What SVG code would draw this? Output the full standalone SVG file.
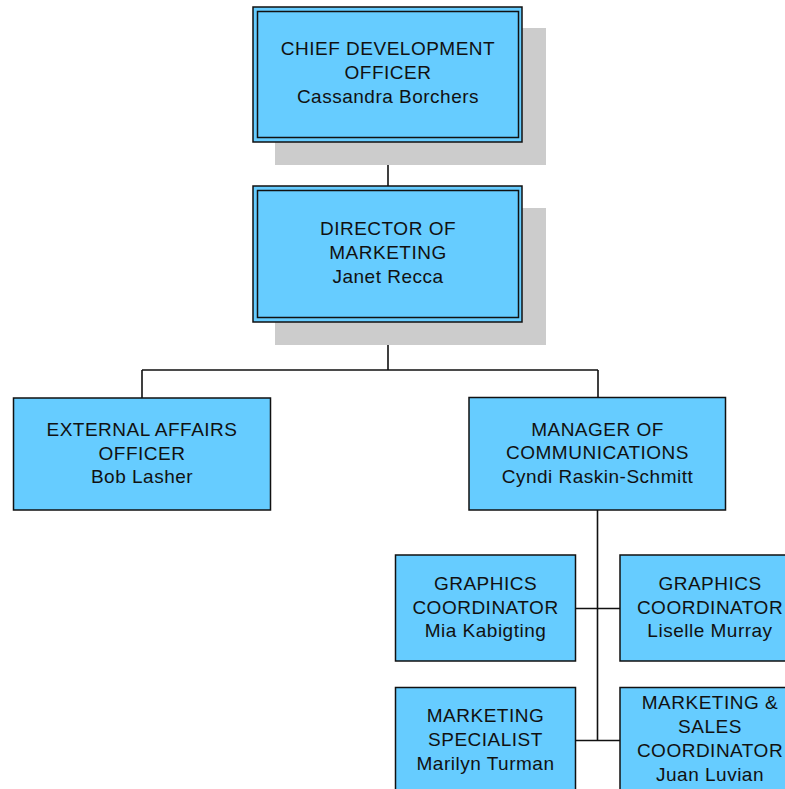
<svg xmlns="http://www.w3.org/2000/svg" width="785" height="789" viewBox="0 0 785 789">
<style>
.shadow{fill:#cccccc;stroke:none}
.box{fill:#66ccff;stroke:#111;stroke-width:1.5}
.inner{fill:none;stroke:#111;stroke-width:1.5}
.conn{fill:none;stroke:#111;stroke-width:1.6}
text{font-family:"Liberation Sans",Arial,sans-serif;font-size:19px;letter-spacing:0.5px;fill:#111;text-anchor:middle}
</style>
<rect width="785" height="789" fill="#fff"/>
<g id="connectors">
<path class="conn" d="M388 142V186M388 322V370M142 370H598M142 370V398M598 370V398M597.5 510V740M575 608.5H620M575 740.5H620"/>
</g>
<g id="cdo">
<rect class="shadow" x="275" y="28" width="271" height="137"/>
<rect class="box" x="253" y="7" width="269" height="135"/>
<rect class="inner" x="257.5" y="11.5" width="261" height="126"/>
<text x="388" y="55">CHIEF DEVELOPMENT</text>
<text x="388" y="79">OFFICER</text>
<text x="388" y="103">Cassandra Borchers</text>
</g>
<g id="dom">
<rect class="shadow" x="275" y="208" width="271" height="137"/>
<rect class="box" x="253" y="186" width="269" height="136"/>
<rect class="inner" x="257.5" y="190.5" width="261" height="127"/>
<text x="388" y="235">DIRECTOR OF</text>
<text x="388" y="259">MARKETING</text>
<text x="388" y="283">Janet Recca</text>
</g>
<g id="external">
<rect class="box" x="13.5" y="398" width="257" height="112"/>
<text x="142" y="436">EXTERNAL AFFAIRS</text>
<text x="142" y="460">OFFICER</text>
<text x="142" y="483">Bob Lasher</text>
</g>
<g id="manager">
<rect class="box" x="469" y="397.5" width="256.5" height="112.5"/>
<text x="597.5" y="436">MANAGER OF</text>
<text x="597.5" y="459">COMMUNICATIONS</text>
<text x="597.5" y="483">Cyndi Raskin-Schmitt</text>
</g>
<g id="graphics1">
<rect class="box" x="395.5" y="555" width="180" height="106"/>
<text x="485.5" y="590">GRAPHICS</text>
<text x="485.5" y="614">COORDINATOR</text>
<text x="485.5" y="637">Mia Kabigting</text>
</g>
<g id="graphics2">
<rect class="box" x="620" y="555" width="180" height="106"/>
<text x="710" y="590">GRAPHICS</text>
<text x="710" y="614">COORDINATOR</text>
<text x="710" y="637">Liselle Murray</text>
</g>
<g id="specialist">
<rect class="box" x="395.5" y="687.5" width="180" height="106"/>
<text x="485.5" y="722">MARKETING</text>
<text x="485.5" y="746">SPECIALIST</text>
<text x="485.5" y="770">Marilyn Turman</text>
</g>
<g id="sales">
<rect class="box" x="620" y="687.5" width="180" height="106"/>
<text x="710" y="709">MARKETING &amp;</text>
<text x="710" y="733">SALES</text>
<text x="710" y="757">COORDINATOR</text>
<text x="710" y="781">Juan Luvian</text>
</g>
</svg>
